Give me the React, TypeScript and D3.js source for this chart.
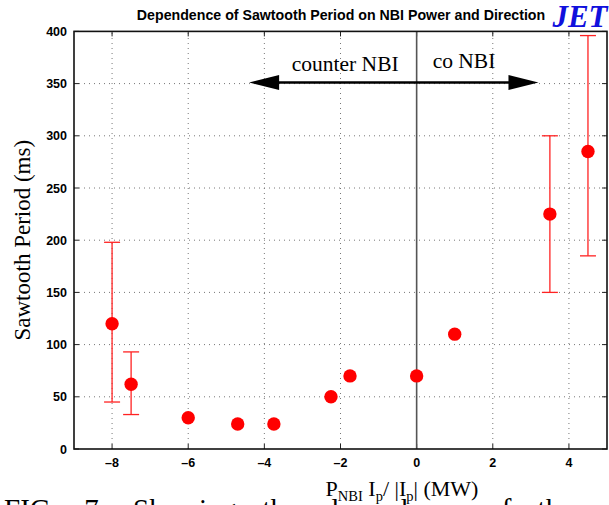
import React from 'react'
import * as d3 from 'd3'

// data
const power = [-8, -7.5, -6, -4.7, -3.75, -2.25, -1.75, 0, 1, 3.5, 4.5]
const period = [120, 62, 30, 24, 24, 50, 70, 70, 110, 225, 285]
const errLow = [45, 33, null, null, null, null, null, null, null, 150, 185]
const errHigh = [198, 93, null, null, null, null, null, null, null, 300, 396]
const xTicks = [-8, -6, -4, -2, 0, 2, 4]
const yTicks = [0, 50, 100, 150, 200, 250, 300, 350, 400]
const arrowSpan = [-4.4, 3.2]
const arrowLevel = 351

const W = 609
const H = 505
const margin = { top: 31.4, right: 2, bottom: 56, left: 74 }

export default function App () {
  const x = d3.scaleLinear().domain([-9, 5]).range([margin.left, W - margin.right])
  const y = d3.scaleLinear().domain([0, 400]).range([H - margin.bottom, margin.top])
  const x0 = margin.left, x1 = W - margin.right
  const y0 = H - margin.bottom, y1 = margin.top
  const sans = 'Liberation Sans, Arial, sans-serif'
  const serif = 'Liberation Serif, Times New Roman, serif'

  const ay = y(arrowLevel)
  const ax0 = x(arrowSpan[0]), ax1 = x(arrowSpan[1])
  const head = 30, hw = 7.5

  return (
    <svg width={W} height={H} style={{ position: 'absolute', left: 0, top: 0, background: '#fff' }}>
      {/* grid */}
      {xTicks.filter(t => t !== 0).map(t => (
        <line key={'gx' + t} x1={x(t)} x2={x(t)} y1={y0} y2={y1} stroke="#777" strokeWidth={1} strokeDasharray="1,4" />
      ))}
      {yTicks.filter(t => t !== 0 && t !== 400).map(t => (
        <line key={'gy' + t} x1={x0} x2={x1} y1={y(t)} y2={y(t)} stroke="#777" strokeWidth={1} strokeDasharray="1,4" />
      ))}
      {/* ticks, inward on all four sides */}
      {xTicks.map(t => (
        <g key={'tx' + t} stroke="#222" strokeWidth={1}>
          <line x1={x(t)} x2={x(t)} y1={y0} y2={y0 - 5} />
          <line x1={x(t)} x2={x(t)} y1={y1} y2={y1 + 5} />
        </g>
      ))}
      {yTicks.map(t => (
        <g key={'ty' + t} stroke="#222" strokeWidth={1}>
          <line x1={x0} x2={x0 + 5} y1={y(t)} y2={y(t)} />
          <line x1={x1} x2={x1 - 5} y1={y(t)} y2={y(t)} />
        </g>
      ))}
      {/* zero line */}
      <line x1={x(0)} x2={x(0)} y1={y0} y2={y1} stroke="#555" strokeWidth={1.6} />
      {/* frame */}
      <rect x={x0} y={y1} width={x1 - x0} height={y0 - y1} fill="none" stroke="#111" strokeWidth={1.6} />

      {/* tick labels */}
      {xTicks.map(t => (
        <text key={'lx' + t} x={x(t)} y={y0 + 18} textAnchor="middle" fontFamily={sans} fontWeight="bold" fontSize={12.5}>
          {t < 0 ? '\u2013' + Math.abs(t) : t}
        </text>
      ))}
      {yTicks.map(t => (
        <text key={'ly' + t} x={x0 - 7} y={y(t) + 4.5} textAnchor="end" fontFamily={sans} fontWeight="bold" fontSize={12.5}>
          {t}
        </text>
      ))}

      {/* arrow */}
      <line x1={ax0 + head - 2} x2={ax1 - head + 2} y1={ay} y2={ay} stroke="#000" strokeWidth={2.6} />
      <path d={`M${ax0},${ay} L${ax0 + head},${ay - hw} L${ax0 + head},${ay + hw} Z`} fill="#000" />
      <path d={`M${ax1},${ay} L${ax1 - head},${ay - hw} L${ax1 - head},${ay + hw} Z`} fill="#000" />
      <text x={x(0) - 18} y={ay - 12} textAnchor="end" fontFamily={serif} fontSize={21.5}>counter NBI</text>
      <text x={x(0) + 16} y={ay - 15} textAnchor="start" fontFamily={serif} fontSize={21.5}>co NBI</text>

      {/* error bars */}
      {power.map((p, i) => errLow[i] == null ? null : (
        <g key={'e' + i} stroke="#f22" strokeWidth={1.3}>
          <line x1={x(p)} x2={x(p)} y1={y(errLow[i] as number)} y2={y(errHigh[i] as number)} />
          <line x1={x(p) - 8} x2={x(p) + 8} y1={y(errLow[i] as number)} y2={y(errLow[i] as number)} />
          <line x1={x(p) - 8} x2={x(p) + 8} y1={y(errHigh[i] as number)} y2={y(errHigh[i] as number)} />
        </g>
      ))}
      {/* points */}
      {power.map((p, i) => (
        <circle key={'p' + i} cx={x(p)} cy={y(period[i])} r={6.7} fill="#f00" />
      ))}

      {/* title */}
      <text x={341} y={20} textAnchor="middle" fontFamily={sans} fontWeight="bold" fontSize={14.2}>
        Dependence of Sawtooth Period on NBI Power and Direction
      </text>
      <text x={580} y={26.5} textAnchor="middle" fontFamily={serif} fontWeight="bold" fontStyle="italic" fontSize={31} fill="#1010dd">JET</text>

      {/* axis labels */}
      <text transform={`translate(30,${(y0 + y1) / 2}) rotate(-90)`} textAnchor="middle" fontFamily={serif} fontSize={23}>
        Sawtooth Period (ms)
      </text>
      <text x={402} y={496} textAnchor="middle" fontFamily={serif} fontSize={22}>
        P<tspan fontSize={14.5} dy={5}>NBI</tspan>
        <tspan dy={-5}> I</tspan><tspan fontSize={14.5} dy={5}>p</tspan>
        <tspan dy={-5}>/ |I</tspan><tspan fontSize={14.5} dy={5}>p</tspan>
        <tspan dy={-5}>| (MW)</tspan>
      </text>
      <text x={4} y={519} fontFamily={serif} fontSize={29} wordSpacing={19}>FIG. 7: Showing the dependence of the</text>
    </svg>
  )
}
